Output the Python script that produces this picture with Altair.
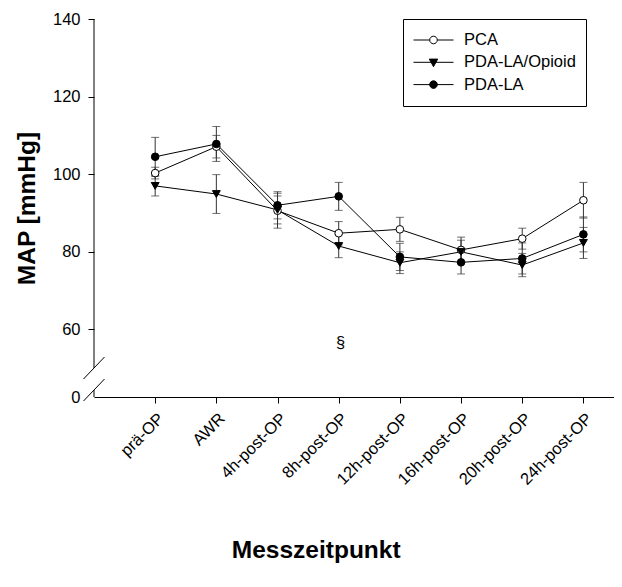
import json
import altair as alt
import pandas as pd

# ---------------- data ----------------
categories = ["prä-OP", "AWR", "4h-post-OP", "8h-post-OP", "12h-post-OP",
              "16h-post-OP", "20h-post-OP", "24h-post-OP"]
groups = ["PCA", "PDA-LA/Opioid", "PDA-LA"]

pca_mean = [100.3, 107.1, 90.6, 84.8, 85.8, 80.5, 83.4, 93.3]
pca_err = [1.5, 2.9, 4.5, 3.0, 3.1, 3.3, 2.7, 4.6]
opioid_mean = [97.0, 94.9, 90.8, 81.5, 77.2, 80.0, 76.6, 82.3]
opioid_err = [2.6, 5.0, 3.6, 3.0, 2.8, 3.0, 3.0, 4.0]
la_mean = [104.5, 107.8, 92.0, 94.3, 78.7, 77.3, 78.3, 84.5]
la_err = [5.0, 4.5, 3.5, 3.6, 3.5, 3.0, 4.0, 4.5]

y_ticks = [60, 80, 100, 120, 140]
ann_x = [4]
ann_y = [56.4]
ann_text = ["§"]

# value at which the "0" of the broken axis is drawn
BREAK_BASE = 42.6
FONT = "Liberation Sans"

rows = []
for g, means, errs in [("PCA", pca_mean, pca_err),
                       ("PDA-LA/Opioid", opioid_mean, opioid_err),
                       ("PDA-LA", la_mean, la_err)]:
    for i, (m, e) in enumerate(zip(means, errs)):
        rows.append({"group": g, "x": i + 1, "cat": categories[i],
                     "mean": m, "lo": m - e, "hi": m + e})
df = pd.DataFrame(rows)

label_expr = json.dumps(categories, ensure_ascii=False) + "[datum.value - 1]"

x_enc = alt.X("x:Q",
              scale=alt.Scale(domain=[0, 8.5], nice=False, zero=False),
              axis=alt.Axis(values=list(range(1, len(categories) + 1)),
                            labelExpr=label_expr, labelAngle=-45,
                            labelFlush=False, labelOverlap=False,
                            tickSize=6, labelPadding=7, grid=False,
                            title="Messzeitpunkt", titleX=221.7, titleY=160,
                            titleAlign="center", titleBaseline="alphabetic"))
y_scale = alt.Scale(domain=[BREAK_BASE, 140], nice=False, zero=False)
y_axis = alt.Axis(values=[BREAK_BASE] + y_ticks,
                  labelExpr="datum.value < 50 ? '0' : datum.label",
                  tickOpacity={"condition": {"test": "datum.value < 50", "value": 0}, "value": 1},
                  domain=False, tickSize=6, labelPadding=8, grid=False,
                  labelOverlap=False, labelFlush=False,
                  title="MAP [mmHg]", titlePadding=13)

base = alt.Chart(df)

err_rules = base.mark_rule(color="#333", strokeWidth=1).encode(
    x=x_enc, y=alt.Y("lo:Q", scale=y_scale, axis=y_axis), y2="hi:Q")

caps = base.transform_fold(["lo", "hi"], as_=["end", "val"]).mark_tick(
    orient="horizontal", size=8, thickness=1, color="#333").encode(
    x="x:Q", y="val:Q")

lines = base.mark_line(color="black", strokeWidth=1).encode(
    x="x:Q", y="mean:Q", detail="group:N")

pts_pca = base.transform_filter("datum.group === 'PCA'").mark_point(
    shape="circle", size=58, strokeWidth=1, stroke="black", fill="white",
    filled=False, opacity=1).encode(x="x:Q", y="mean:Q")
pts_op = base.transform_filter("datum.group === 'PDA-LA/Opioid'").mark_point(
    shape="triangle-down", size=62, strokeWidth=1, stroke="black", fill="black",
    opacity=1).encode(x="x:Q", y="mean:Q")
pts_la = base.transform_filter("datum.group === 'PDA-LA'").mark_point(
    shape="circle", size=58, strokeWidth=1, stroke="black", fill="black",
    opacity=1).encode(x="x:Q", y="mean:Q")

# legend symbols: line with marker
P_PCA = "M-1,0L-0.19,0M0.19,0L1,0M-0.19,0A0.19,0.19,0,1,0,0.19,0A0.19,0.19,0,1,0,-0.19,0Z"
P_OP = "M-1,0L1,0M-0.21,-0.16L0.21,-0.16L0,0.22Z"
P_LA = "M-1,0L1,0M-0.19,0A0.19,0.19,0,1,0,0.19,0A0.19,0.19,0,1,0,-0.19,0Z"

legend = alt.Legend(
    title=None, orient="none", legendX=309, legendY=0,
    strokeColor="black", padding=10,
    symbolSize=1600, symbolStrokeWidth=1, symbolStrokeColor="black",
    symbolOpacity=1, clipHeight=22, rowPadding=0.3,
    labelFont=FONT, labelFontSize=16.5, labelColor="black", labelOffset=10)

legend_layer = base.transform_filter("false").mark_point(
    strokeWidth=1, opacity=1).encode(
    x="x:Q", y="mean:Q",
    shape=alt.Shape("group:N", scale=alt.Scale(domain=groups,
                    range=[P_PCA, P_OP, P_LA]), legend=legend),
    fill=alt.Fill("group:N", scale=alt.Scale(domain=groups,
                  range=["white", "black", "black"]), legend=legend),
    stroke=alt.Stroke("group:N", scale=alt.Scale(domain=groups,
                      range=["black", "black", "black"]), legend=legend))

ann = alt.Chart(pd.DataFrame({"x": ann_x, "y": ann_y, "t": ann_text})).mark_text(
    font=FONT, fontSize=16.5, color="black", baseline="middle", dx=2).encode(
    x="x:Q", y="y:Q", text="t:N")

# broken y-axis line and break marks (decoration)
axis_df = pd.DataFrame({"k": [0]})
axis_up = alt.Chart(axis_df).mark_rule(color="black", strokeWidth=1).encode(
    x=alt.value(0), y=alt.value(0), y2=alt.value(349))
axis_low = alt.Chart(axis_df).mark_rule(color="black", strokeWidth=1).encode(
    x=alt.value(0), y=alt.value(371), y2=alt.value(378))
slash_up = alt.Chart(axis_df).mark_rule(color="black", strokeWidth=1).encode(
    x=alt.value(-10.5), x2=alt.value(10.5), y=alt.value(360), y2=alt.value(338))
slash_low = alt.Chart(axis_df).mark_rule(color="black", strokeWidth=1).encode(
    x=alt.value(-10.5), x2=alt.value(10.5), y=alt.value(382), y2=alt.value(360))

chart = alt.layer(err_rules, caps, lines, pts_pca, pts_op, pts_la, legend_layer,
                  ann, axis_up, axis_low, slash_up, slash_low).properties(
    width=520, height=378,
    autosize=alt.AutoSizeParams(type="none"),
    padding={"left": 86, "top": 11, "right": 0, "bottom": 180},
).configure(font=FONT).configure_view(stroke=None).configure_axis(
    labelFont=FONT, labelFontSize=16.5, labelColor="black",
    tickColor="black", domainColor="black", tickWidth=1, domainWidth=1,
    titleFont=FONT, titleFontSize=24.5, titleFontWeight="bold", titleColor="black",
)

chart.save("out.html", embed_options={"renderer": "svg", "actions": False})
